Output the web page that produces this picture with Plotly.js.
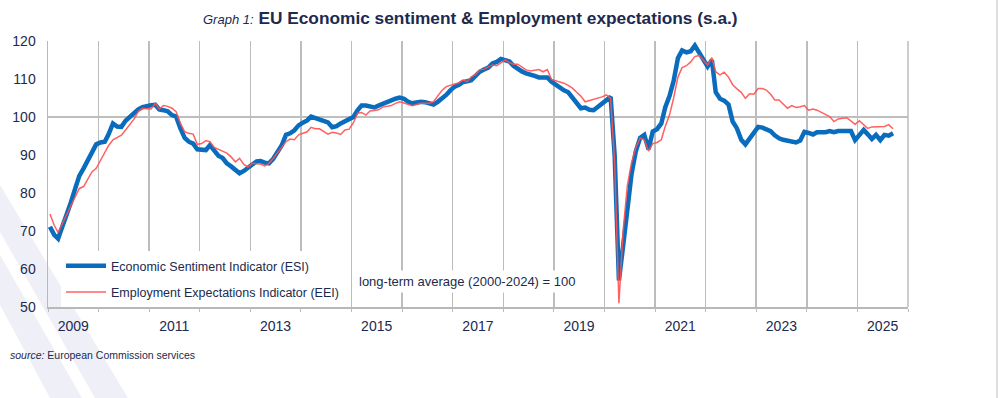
<!DOCTYPE html>
<html>
<head>
<meta charset="utf-8">
<script src="https://cdn.plot.ly/plotly-3.0.1.min.js"></script>
<style>
html,body{margin:0;padding:0;background:#fff;}
#chart{width:1000px;height:398px;}
</style>
</head>
<body>
<div id="chart"></div>
<script>
// Monthly data, Jan 2009 - Sep 2025
const startYear = 2009;
const esi = [
 71.1,69.0,68.0,71.0,74.5,77.5,81.0,84.5,86.5,88.5,90.8,92.8,
 93.3,93.5,95.5,98.3,97.5,97.4,99.0,100.0,101.3,102.0,102.6,102.9,
 103.1,103.2,102.0,101.8,101.5,100.5,100.1,97.0,94.5,93.5,93.0,91.5,
 91.3,91.3,92.6,91.2,89.8,89.2,87.8,87.0,86.0,85.2,85.8,86.5,
 87.5,88.3,88.4,88.0,87.8,89.0,90.8,92.5,95.3,95.7,96.5,97.8,
 98.5,99.1,100.1,99.7,99.3,99.0,98.6,97.3,97.6,98.3,98.8,99.2,
 100.0,101.8,103.0,103.0,102.8,102.5,103.0,103.5,104.0,104.4,104.8,105.1,
 104.8,104.0,103.6,103.8,104.0,103.9,103.6,103.3,104.0,104.8,105.8,107.0,
 108.0,108.5,109.2,109.4,109.7,110.8,111.9,112.5,113.0,114.1,114.5,115.3,
 115.0,114.6,113.5,112.6,112.0,111.5,111.0,110.8,110.4,110.4,110.4,109.3,
 108.5,107.6,107.0,106.5,105.0,103.5,102.3,102.5,101.9,101.8,102.6,103.6,
 104.5,105.3,90.0,57.0,66.0,77.0,85.0,91.0,94.5,95.3,91.5,96.2,
 96.8,98.3,102.5,105.5,109.5,115.5,117.5,117.0,117.3,118.8,116.8,114.8,
 113.3,115.0,106.5,104.8,104.3,103.3,98.8,97.0,94.0,92.8,94.3,95.8,
 97.4,97.2,96.9,96.3,95.2,94.4,94.0,93.7,93.5,93.3,93.8,96.1,
 95.8,95.4,96.0,95.9,96.0,96.3,96.0,96.3,96.3,96.3,96.3,93.9,
 95.3,96.6,95.5,94.2,95.3,93.9,95.3,95.1,95.7
];
const eei = [
 74.5,71.5,69.6,72.0,74.5,76.8,79.0,81.2,81.7,83.5,85.6,86.5,
 88.5,90.5,92.5,94.0,94.5,95.2,96.6,98.0,99.5,101.5,102.3,102.2,
 102.1,103.6,102.1,103.0,102.8,102.3,101.4,98.3,96.1,95.7,95.5,92.8,
 93.0,93.8,93.5,92.0,91.5,90.8,90.5,89.5,88.2,89.1,87.5,86.8,
 87.8,87.7,87.6,87.1,87.8,89.1,90.5,91.8,93.5,94.2,94.0,95.3,
 95.8,96.1,97.3,96.9,96.9,96.2,95.5,96.0,95.8,95.4,96.6,96.8,
 98.5,101.0,101.2,100.5,101.6,101.7,101.9,102.6,102.9,103.0,103.6,104.0,
 103.7,103.3,103.0,103.3,103.6,103.6,103.6,104.0,105.6,107.0,108.0,108.3,
 108.6,109.0,109.7,109.3,110.6,111.2,112.4,112.6,113.2,113.7,113.5,114.2,
 115.0,114.3,113.9,113.9,113.2,112.4,112.1,112.3,112.5,111.9,112.5,109.9,
 109.5,109.3,108.9,108.3,107.6,106.5,105.5,104.0,104.3,104.6,105.0,105.3,
 105.8,104.9,88.0,51.0,70.0,82.0,88.0,92.0,94.5,94.0,91.0,93.0,
 93.3,94.0,97.5,100.5,105.0,110.5,113.0,113.5,114.5,115.9,116.2,115.0,
 113.7,115.6,111.9,111.1,111.8,110.5,108.5,107.4,106.5,104.9,106.1,106.0,
 107.5,107.5,107.1,106.0,104.5,104.5,103.5,102.3,103.0,102.5,102.7,103.0,
 101.8,102.1,101.8,101.2,100.5,100.1,98.8,99.5,99.7,99.8,99.0,98.1,
 99.0,98.0,97.0,97.4,97.4,97.4,97.5,98.0,96.9
];
const tickYears = ['2009','2011','2013','2015','2017','2019','2021','2023','2025'];
const seriesNames = ['Economic Sentiment Indicator (ESI)','Employment Expectations Indicator (EEI)'];

function monthDates(n){
  const out=[];
  for(let i=0;i<n;i++){
    const y=startYear+Math.floor(i/12), m=(i%12)+1;
    out.push(y+'-'+(m<10?'0'+m:m)+'-15');
  }
  return out;
}
const dates = monthDates(esi.length);
const navy = '#1b2a4e';
const font = 'Liberation Sans, Arial, sans-serif';

const traces = [
  {x: dates, y: esi, type:'scatter', mode:'lines', name: seriesNames[0],
   line:{color:'#0a6cbc', width:4.5}, legendgroup:'a'},
  {x: dates, y: eei, type:'scatter', mode:'lines', name: seriesNames[1],
   line:{color:'#ff5050', width:1.5}, opacity:0.9, legendgroup:'b'}
];

// paper helpers (plot area: x 48..908 px, y 41..307 px)
const px = v => (v-48)/860;
const py = v => (307-v)/266;

const layout = {
  width:1000, height:398,
  margin:{l:48, r:92, t:41, b:91},
  paper_bgcolor:'#ffffff', plot_bgcolor:'rgba(0,0,0,0)',
  font:{family:font, color:navy, size:14},
  showlegend:true,
  legend:{x:px(61), xanchor:'left', y:py(307), yanchor:'bottom',
    bgcolor:'#ffffff', borderwidth:0, font:{size:12.5, color:navy, family:font},
    traceorder:'grouped', tracegroupgap:7, itemwidth:40},
  xaxis:{type:'date', range:['2009-01-01','2026-01-01'],
    tickmode:'array', tickvals: tickYears.map(y=>y+'-07-02'), ticktext: tickYears,
    showgrid:false, ticks:'', showline:true, linecolor:'#b8b8b8', linewidth:1.5,
    tickfont:{size:14, color:navy, family:font}, ticklabelstandoff:6,
    minor:{tick0:'2009-01-01', dtick:'M12', showgrid:true, gridcolor:'#bdbdbd', gridwidth:1.5,
      ticks:'outside', ticklen:3, tickcolor:'#bdbdbd'},
    zeroline:false, fixedrange:true},
  yaxis:{range:[50,120], dtick:10, tick0:50, showgrid:false, zeroline:false,
    showline:true, linecolor:'#b8b8b8', linewidth:1.5, ticks:'',
    tickfont:{size:14, color:navy, family:font}, ticklabelstandoff:8, fixedrange:true},
  shapes:[
    {type:'line', xref:'paper', yref:'y', x0:0, x1:1, y0:100, y1:100,
     line:{color:'#a9a9a9', width:1.5}, layer:'below'},
    {type:'line', xref:'paper', yref:'paper', x0:1, x1:1, y0:0, y1:1,
     line:{color:'#bdbdbd', width:1.5}, layer:'below'},
    {type:'line', xref:'paper', yref:'paper', x0:px(997), x1:px(997), y0:py(0), y1:py(398),
     line:{color:'#d4d4d4', width:1.5}, layer:'below'},
    {type:'path', xref:'paper', yref:'paper', layer:'below', line:{width:0},
     fillcolor:'rgba(215,215,238,0.4)',
     path:'M'+px(0)+','+py(185)+' L'+px(128)+','+py(398)+' L'+px(95)+','+py(398)+' L'+px(0)+','+py(232)+' Z'},
    {type:'path', xref:'paper', yref:'paper', layer:'below', line:{width:0},
     fillcolor:'rgba(215,215,238,0.4)',
     path:'M'+px(0)+','+py(255)+' L'+px(82)+','+py(398)+' L'+px(50)+','+py(398)+' L'+px(0)+','+py(305)+' Z'}
  ],
  annotations:[
    {xref:'paper', yref:'paper', x:px(201), y:py(18), xanchor:'left', yanchor:'middle', showarrow:false,
     text:'<i><span style="font-size:13px">Graph 1:</span></i> <b>EU Economic sentiment &amp; Employment expectations (s.a.)</b>',
     font:{size:17.3, color:navy, family:font}},
    {xref:'paper', yref:'paper', x:px(467), y:py(281), xanchor:'center', yanchor:'middle', showarrow:false,
     text:'long-term average (2000-2024) = 100', bgcolor:'#ffffff', borderpad:3,
     font:{size:13, color:navy, family:font}},
    {xref:'paper', yref:'paper', x:px(8), y:py(355), xanchor:'left', yanchor:'middle', showarrow:false,
     text:'<i>source:</i> European Commission services',
     font:{size:10.5, color:navy, family:font}}
  ]
};

Plotly.newPlot('chart', traces, layout, {displayModeBar:false, staticPlot:true});
</script>
</body>
</html>
